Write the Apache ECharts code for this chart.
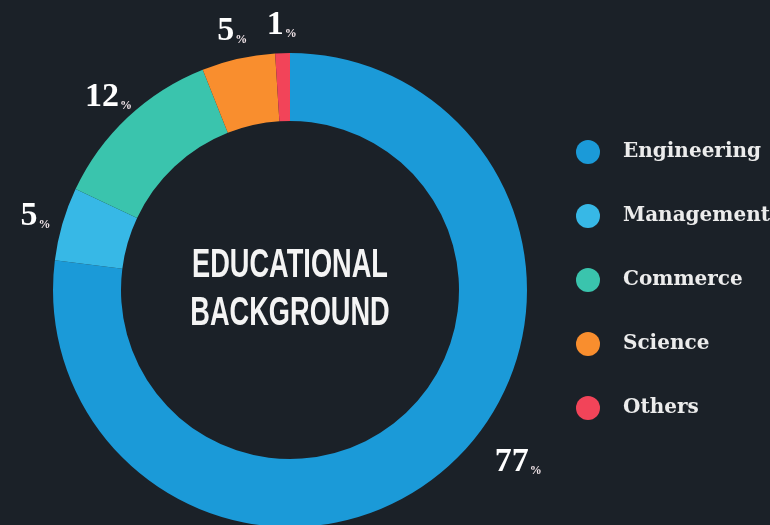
<!DOCTYPE html>
<html>
<head>
<meta charset="utf-8">
<script src="https://cdn.jsdelivr.net/npm/echarts@6/dist/echarts.min.js"></script>
<style>
html,body{margin:0;padding:0;background:#1b2128;}
#chart{width:770px;height:525px;}
</style>
</head>
<body>
<div id="chart"></div>
<script>
const categories = ['Engineering', 'Management', 'Commerce', 'Science', 'Others'];
const values = [77, 5, 12, 5, 1];
const colors = ['#1b9ad8', '#37b8e6', '#3ac4ad', '#f98e2e', '#f24459'];
const titleLines = ['EDUCATIONAL', 'BACKGROUND'];

const chart = echarts.init(document.getElementById('chart'), null, {renderer: 'canvas'});

const mainData = categories.map((c, i) => ({name: c, value: values[i], itemStyle: {color: colors[i]}}));
const labelData = categories.map((c, i) => {
  const item = {name: c, value: values[i]};
  if (i === 0) item.label = {offset: [53, -27]};
  return item;
});

const option = {
  backgroundColor: '#1b2128',
  animation: false,
  legend: {
    orient: 'vertical',
    left: 571,
    top: 135,
    icon: 'circle',
    itemWidth: 24,
    itemHeight: 24,
    itemGap: 40,
    data: categories,
    textStyle: {
      color: '#ececec',
      fontFamily: 'DejaVu Serif',
      fontWeight: 'bold',
      fontSize: 20,
      padding: [0, 0, 0, 18]
    },
    selectedMode: false
  },
  graphic: [{
    type: 'text',
    x: 290,
    y: 290,
    scaleX: 0.68,
    style: {
      text: titleLines.join('\n'),
      fill: '#f4f4f4',
      font: 'bold 40px "Liberation Sans", Arial, sans-serif',
      lineHeight: 48,
      align: 'center',
      verticalAlign: 'middle'
    }
  }],
  series: [
    {
      type: 'pie',
      center: [290, 290],
      radius: [169, 237],
      startAngle: 90,
      clockwise: true,
      avoidLabelOverlap: false,
      label: {show: false},
      labelLine: {show: false},
      itemStyle: {borderWidth: 0},
      data: mainData
    },
    {
      type: 'pie',
      center: [290, 290],
      radius: [258, 266],
      startAngle: 90,
      clockwise: true,
      silent: true,
      legendHoverLink: false,
      avoidLabelOverlap: false,
      itemStyle: {color: 'rgba(0,0,0,0)', borderWidth: 0},
      emphasis: {disabled: true},
      labelLine: {show: false},
      label: {
        show: true,
        position: 'inside',
        rotate: 0,
        formatter: p => '{n|' + p.value + '}{p|%}',
        rich: {
          n: {
            color: '#ffffff',
            fontFamily: 'Liberation Serif',
            fontWeight: 'bold',
            fontSize: 34
          },
          p: {
            color: '#f3e6ea',
            fontFamily: 'Liberation Serif',
            fontWeight: 'bold',
            fontSize: 12,
            verticalAlign: 'bottom',
            padding: [0, 0, 2, 1]
          }
        }
      },
      data: labelData
    }
  ]
};
chart.setOption(option);
</script>
</body>
</html>
